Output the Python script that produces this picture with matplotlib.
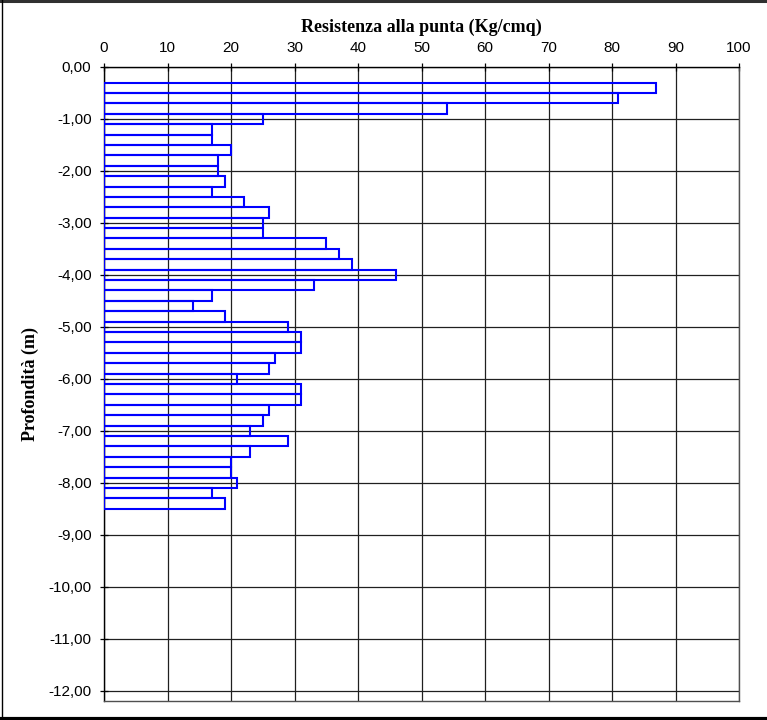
import matplotlib
matplotlib.use("Agg")
import matplotlib.pyplot as plt
from matplotlib.lines import Line2D
from matplotlib.ticker import FuncFormatter
import numpy as np

# Depth of bar centres (m) and tip resistance (Kg/cmq)
depths = [0.4, 0.6, 0.8, 1.0, 1.2, 1.4, 1.6, 1.8, 2.0, 2.2,
          2.4, 2.6, 2.8, 3.0, 3.2, 3.4, 3.6, 3.8, 4.0, 4.2,
          4.4, 4.6, 4.8, 5.0, 5.2, 5.4, 5.6, 5.8, 6.0, 6.2,
          6.4, 6.6, 6.8, 7.0, 7.2, 7.4, 7.6, 7.8, 8.0, 8.2, 8.4]
resistance = [87, 81, 54, 25, 17, 17, 20, 18, 18, 19,
              17, 22, 26, 25, 25, 35, 37, 39, 46, 33,
              17, 14, 19, 29, 31, 31, 27, 26, 21, 31,
              31, 26, 25, 23, 29, 23, 20, 20, 21, 17, 19]
layer_thickness = 0.2
x_ticks = [0, 10, 20, 30, 40, 50, 60, 70, 80, 90, 100]
y_ticks = [0, -1, -2, -3, -4, -5, -6, -7, -8, -9, -10, -11, -12]

fig = plt.figure(figsize=(7.67, 7.2), dpi=100)
ax = fig.add_axes([104/767, 19/720, (739-104)/767, (701-67)/720])

ax.barh([-d for d in depths], resistance, height=layer_thickness,
        left=0, fill=False, edgecolor='#0000FF', linewidth=1.5, zorder=3)

ax.set_xlim(0, 100)
ax.set_ylim(-12.2, 0)
ax.set_xticks(x_ticks)
ax.set_yticks(y_ticks)
ax.yaxis.set_major_formatter(FuncFormatter(lambda v, p: f"{v:.2f}".replace('.', ',')))

ax.xaxis.tick_top()
ax.xaxis.set_label_position('top')
ax.tick_params(axis='both', direction='inout', length=6, width=0.9,
               color='black', labelsize=11)
ax.tick_params(axis='x', pad=6)
ax.tick_params(axis='y', pad=6)
for lab in ax.get_xticklabels() + ax.get_yticklabels():
    lab.set_fontfamily('Liberation Sans')

ax.grid(True, color='#202020', linewidth=0.9, zorder=1)
ax.set_axisbelow(True)
for s in ax.spines.values():
    s.set_color('black')
    s.set_linewidth(1.0)
ax.spines['right'].set_color('#505050')
ax.spines['bottom'].set_color('#505050')

ax.set_xlabel('Resistenza alla punta (Kg/cmq)', fontfamily='Liberation Serif',
              fontweight='bold', fontsize=13, labelpad=6)
ax.set_ylabel('Profondità (m)', fontfamily='Liberation Serif',
              fontweight='bold', fontsize=13, labelpad=7)

# figure border
fig.add_artist(Line2D([0, 1], [0.999, 0.999], transform=fig.transFigure,
                      color='#303030', linewidth=2.2))
fig.add_artist(Line2D([0.002, 0.002], [0, 1], transform=fig.transFigure,
                      color='black', linewidth=1.0))
fig.add_artist(Line2D([0, 1], [0.002, 0.002], transform=fig.transFigure,
                      color='black', linewidth=3.0))

fig.savefig('out.png', dpi=100)
